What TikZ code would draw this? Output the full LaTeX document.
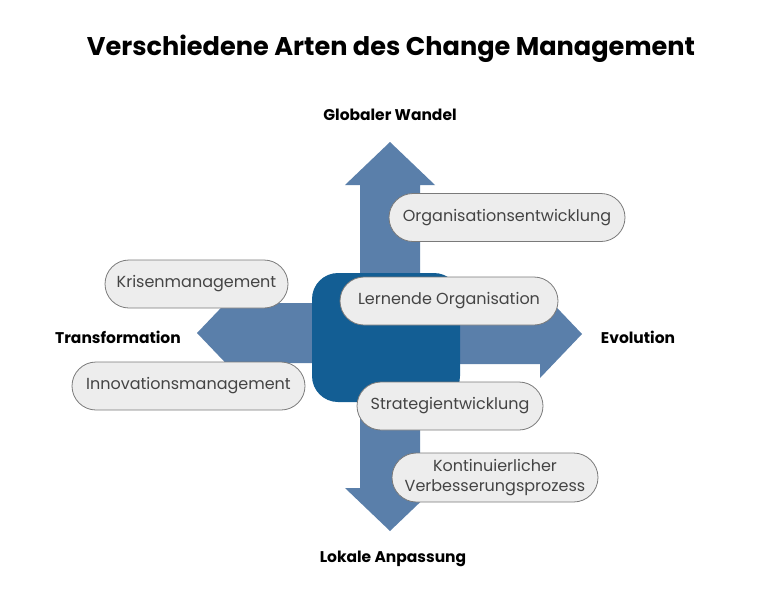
\documentclass[tikz,border=0pt]{standalone}
\usepackage{fontspec}
\setmainfont{Poppins}
\usetikzlibrary{shapes.misc}
\definecolor{arrowblue}{HTML}{5A7FAA}
\definecolor{boxblue}{HTML}{135E94}
\definecolor{pillfill}{HTML}{EDEDED}
\definecolor{pillline}{HTML}{7A7A7A}
\definecolor{pilltext}{HTML}{444444}
\tikzset{
  bigarrow/.style={fill=arrowblue, draw=none},
  pill/.style={rounded rectangle, draw=pillline, line width=0.8pt, fill=pillfill,
    text=pilltext, font=\fontsize{16}{20}\selectfont, align=center, inner sep=0pt},
  axislabel/.style={font=\bfseries\fontsize{15.5}{18}\selectfont, text=black},
}
\begin{document}
\begin{tikzpicture}[x=1pt,y=-1pt]
\useasboundingbox (0,0) rectangle (773,600);
% title
\node (title) at (391,49) {\resizebox{608pt}{!}{\bfseries Verschiedene Arten des Change Management}};
% arrows
\fill[bigarrow] (360,280) -- (360,185) -- (345,185) -- (390,142) -- (435,185) -- (420,185) -- (420,280) -- cycle;
\fill[bigarrow] (450,304) -- (540,304) -- (540,290) -- (582,334) -- (540,378) -- (540,364) -- (450,364) -- cycle;
\fill[bigarrow] (320,303) -- (240,303) -- (240,288) -- (197,333) -- (240,378) -- (240,363) -- (320,363) -- cycle;
\fill[bigarrow] (360,390) -- (360,488) -- (345,488) -- (390,531) -- (435,488) -- (420,488) -- (420,390) -- cycle;
% center box
\node (center) [fill=boxblue, rounded corners=26pt, minimum width=148pt, minimum height=129pt, inner sep=0pt] at (386,337.5) {};
% axis labels
\node[axislabel] (glob) at (390,115) {Globaler Wandel};
\node[axislabel] (lokal) at (393,559) {Lokale Anpassung};
\node[axislabel] (trans) at (118,337) {Transformation};
\node[axislabel] (evo) at (638,337) {Evolution};
% pills
\node[pill, minimum width=236pt, minimum height=48pt] (orga) at (507,217.5) {Organisationsentwicklung};
\node[pill, minimum width=218pt, minimum height=48pt] (lern) at (449,301) {Lernende Organisation};
\node[pill, minimum width=183pt, minimum height=48pt] (kris) at (196.5,284) {Krisenmanagement};
\node[pill, minimum width=233pt, minimum height=48pt] (inno) at (188.5,386) {Innovationsmanagement};
\node[pill, minimum width=186pt, minimum height=48pt] (strat) at (450,406) {Strategientwicklung};
\node[pill, minimum width=206pt, minimum height=49pt] (kvp) at (495,477.5) {Kontinuierlicher\\Verbesserungsprozess};
\end{tikzpicture}
\end{document}
